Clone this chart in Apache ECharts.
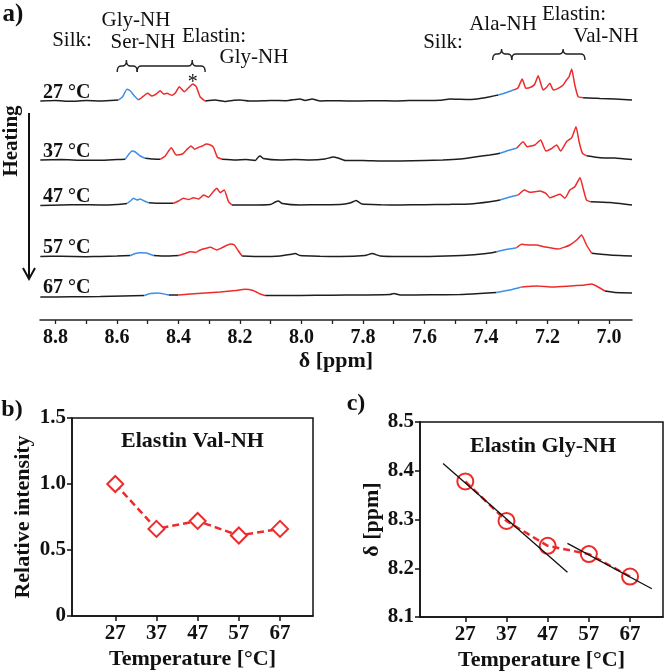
<!DOCTYPE html>
<html><head><meta charset="utf-8">
<script src="https://cdn.jsdelivr.net/npm/echarts@6/dist/echarts.min.js"></script>
<style>html,body{margin:0;padding:0;background:#fff}#c{width:666px;height:672px}</style>
</head><body><div id="c"></div>
<script>
const FONT = '"Liberation Serif", "Times New Roman", serif';
const BLACK = '#1e1e1e', BLUE = '#3f8fe8', RED = '#ee2b2b';

// ---------- Panel a: 1H NMR amide region ----------
const ppmTicks = [8.8, 8.7, 8.6, 8.5, 8.4, 8.3, 8.2, 8.1, 8.0, 7.9, 7.8, 7.7, 7.6, 7.5, 7.4, 7.3, 7.2, 7.1, 7.0];
const ppmLabels = [8.8, 8.6, 8.4, 8.2, 8.0, 7.8, 7.6, 7.4, 7.2, 7.0];
const tempLabels = ['27 °C', '37 °C', '47 °C', '57 °C', '67 °C'];
const assignTexts = ['Silk:', 'Gly-NH', 'Ser-NH', 'Elastin:', 'Gly-NH', 'Silk:', 'Ala-NH', 'Elastin:', 'Val-NH'];

// [ppm, intensity]
const spec27 = [[8.849,0],[8.80,0.5],[8.75,-0.3],[8.70,0.4],[8.654,0],[8.62,0.5],[8.595,1],[8.582,4],[8.567,11.7],[8.556,10],[8.543,5],[8.530,1],[8.521,3],[8.500,7.7],[8.486,5],[8.472,7],[8.459,10.3],[8.448,7],[8.437,7.7],[8.421,5.7],[8.410,8],[8.397,14.3],[8.381,9.3],[8.368,13],[8.353,17],[8.342,14.3],[8.329,4],[8.313,0],[8.280,1],[8.248,-0.5],[8.220,0.8],[8.199,1],[8.170,0],[8.150,0],[8.101,0.5],[8.050,0.3],[8.004,2],[7.988,0.5],[7.965,2],[7.939,0],[7.90,0.3],[7.85,0],[7.809,0],[7.75,0.3],[7.70,0],[7.65,0.4],[7.614,0.5],[7.55,0.8],[7.517,2],[7.452,1.5],[7.419,2.5],[7.387,4.3],[7.360,6],[7.338,8],[7.311,11],[7.296,13],[7.282,22],[7.270,12.7],[7.251,14.3],[7.241,17],[7.230,25.3],[7.214,11],[7.202,14],[7.192,17.7],[7.181,11],[7.165,12.7],[7.149,16],[7.138,21],[7.130,24],[7.121,32],[7.111,16],[7.100,4.3],[7.084,3.3],[7.05,2.8],[7.029,2.5],[6.98,2],[6.925,1]];
const spec37 = [[8.849,0],[8.78,0.4],[8.72,-0.2],[8.654,-0.3],[8.60,0.4],[8.573,0.7],[8.563,5],[8.551,9],[8.540,8],[8.524,4],[8.508,1.7],[8.485,1],[8.459,0.7],[8.443,4],[8.423,12.3],[8.407,5],[8.387,6],[8.374,10],[8.359,14],[8.347,10.7],[8.334,12.7],[8.322,14],[8.309,16],[8.296,15],[8.286,12.7],[8.273,2.7],[8.258,0.7],[8.215,0],[8.18,0.4],[8.150,-0.5],[8.140,3],[8.134,4],[8.124,1.5],[8.069,0],[8.02,0.4],[7.972,0],[7.923,1],[7.897,3],[7.881,2],[7.858,-0.5],[7.80,-0.5],[7.74,-1],[7.679,-1],[7.60,-0.5],[7.54,0],[7.484,1],[7.452,2.3],[7.387,5],[7.354,6.7],[7.328,9.5],[7.300,11.7],[7.279,18.3],[7.266,13.3],[7.241,15],[7.222,20],[7.205,9],[7.189,11],[7.170,15],[7.157,9],[7.138,18.3],[7.121,22.3],[7.107,33.3],[7.097,18.3],[7.086,6.7],[7.073,4.3],[7.029,2.3],[6.981,2],[6.925,0.5]];
const spec47 = [[8.849,-0.5],[8.78,0],[8.72,0.3],[8.654,0],[8.60,0.5],[8.567,1.5],[8.556,4],[8.546,6.7],[8.534,5],[8.524,6],[8.511,4],[8.497,2.3],[8.459,1.7],[8.416,1.7],[8.400,4],[8.383,6.7],[8.367,5.5],[8.351,7.3],[8.334,6],[8.318,10],[8.302,7.7],[8.290,12],[8.275,16.7],[8.264,12.3],[8.251,15],[8.237,3.3],[8.226,0],[8.166,0],[8.101,0.5],[8.085,3],[8.075,4],[8.062,1.5],[8.004,0],[7.94,0.3],[7.874,0.5],[7.842,2],[7.822,4.5],[7.803,1],[7.74,0.3],[7.679,0],[7.60,0.3],[7.52,0.6],[7.452,1],[7.387,3.3],[7.354,5],[7.322,8],[7.295,10],[7.275,15],[7.257,12.7],[7.224,14],[7.205,11.7],[7.192,7.3],[7.176,9],[7.159,10.7],[7.143,6.7],[7.127,15],[7.111,18.3],[7.094,27.3],[7.084,16.7],[7.073,5],[7.060,3.3],[6.997,2.5],[6.925,0]];
const spec57 = [[8.849,0],[8.78,0.3],[8.70,-0.2],[8.654,0],[8.60,0.4],[8.556,1],[8.540,3],[8.524,3.8],[8.504,3.5],[8.481,1],[8.443,0.5],[8.399,1],[8.378,3],[8.361,4.8],[8.345,4],[8.329,6.5],[8.313,8],[8.296,9.2],[8.275,6.5],[8.257,9],[8.231,12.5],[8.218,11.5],[8.205,5.5],[8.193,0.5],[8.134,0],[8.069,0.5],[8.037,2],[8.020,3],[8.004,1],[7.94,0.3],[7.874,0],[7.793,1],[7.770,2.9],[7.744,0.5],[7.68,0],[7.614,0],[7.53,0.6],[7.452,1.5],[7.387,3.5],[7.365,4.8],[7.335,7],[7.300,8.8],[7.284,12.2],[7.257,11.5],[7.235,11.5],[7.215,10],[7.192,8.8],[7.165,7.5],[7.143,9.5],[7.127,11.5],[7.105,16.5],[7.089,21.5],[7.073,11.5],[7.056,3.2],[6.997,1.5],[6.925,0.5]];
const spec67 = [[8.849,-1],[8.75,-0.8],[8.654,-0.5],[8.58,0],[8.511,0.5],[8.491,2.5],[8.465,3],[8.432,1],[8.400,1],[8.361,2],[8.313,3],[8.264,4],[8.215,5.5],[8.183,6.7],[8.157,5.5],[8.134,2],[8.118,0.5],[8.06,0.4],[8.004,0.5],[7.90,0.8],[7.809,1],[7.712,1.5],[7.699,2.5],[7.679,1],[7.58,1.2],[7.484,1.5],[7.42,2.5],[7.366,3.5],[7.322,6],[7.284,9],[7.235,10],[7.181,9],[7.127,10],[7.078,11],[7.056,12],[7.035,9],[7.013,5],[6.981,3.5],[6.925,3]];

// assignment ranges [high ppm, low ppm]
const silkRanges = [
  [[8.595,8.530],[7.360,7.311]],
  [[8.573,8.508],[7.354,7.300]],
  [[8.567,8.497],[7.354,7.295]],
  [[8.556,8.481],[7.365,7.300]],
  [[8.511,8.432],[7.366,7.284]]
];
const elastinRanges = [
  [[8.530,8.313],[7.311,7.084]],
  [[8.459,8.258],[7.300,7.073]],
  [[8.416,8.226],[7.295,7.060]],
  [[8.399,8.193],[7.300,7.056]],
  [[8.400,8.118],[7.284,7.013]]
];

// ---------- Panel b / c ----------
const temps = [27, 37, 47, 57, 67];
const valIntensity = [1.0, 0.66, 0.72, 0.61, 0.66];
const glyShift = [8.378, 8.297, 8.246, 8.229, 8.183];
const fitLow = [[21.6, 8.415], [51.8, 8.192]];
const fitHigh = [[51.8, 8.251], [72.3, 8.158]];

// ---------- layout ----------
const SPEC_BASE_PX = [101, 160, 205, 256.5, 296]; // pixel rows of the stacked traces
const AX_Y = 320;
const ASSIGN_POS_PX = [[72, 40], [136, 20], [143, 42], [214, 36], [254, 57], [443, 42], [503, 24], [574, 14], [606, 36]];
const spectra = [spec27, spec37, spec47, spec57, spec67];

function inRanges(m, rs) { return rs.some(r => m <= r[0] && m >= r[1]); }
function split(points, si) {
  const out = []; let cur = null;
  for (let i = 0; i < points.length - 1; i++) {
    const a = points[i], b = points[i + 1], m = (a[0] + b[0]) / 2;
    const c = inRanges(m, silkRanges[si]) ? BLUE : inRanges(m, elastinRanges[si]) ? RED : BLACK;
    if (!cur || cur.color !== c) { cur = { color: c, pts: [a] }; out.push(cur); }
    cur.pts.push(b);
  }
  return out;
}

const series = [];
spectra.forEach((sp, si) => {
  const off = AX_Y - SPEC_BASE_PX[si];
  split(sp, si).forEach(seg => {
    series.push({
      type: 'line', xAxisIndex: 0, yAxisIndex: 0, silent: true,
      symbol: 'none', smooth: 0.15,
      data: seg.pts.map(p => [p[0], off + p[1]]),
      lineStyle: { color: seg.color, width: 1.5 },
      z: seg.color === BLACK ? 2 : 3
    });
  });
});

series.push({
  type: 'line', xAxisIndex: 1, yAxisIndex: 1,
  data: temps.map((t, i) => [t, valIntensity[i]]),
  symbol: 'diamond', symbolSize: 16,
  itemStyle: { color: '#fff', borderColor: RED, borderWidth: 2 },
  lineStyle: { color: RED, width: 2.5, type: [7, 4] }, z: 3
});
series.push({
  type: 'line', xAxisIndex: 2, yAxisIndex: 2,
  data: temps.map((t, i) => [t, glyShift[i]]),
  symbol: 'circle', symbolSize: 16,
  itemStyle: { color: 'rgba(255,255,255,0)', borderColor: RED, borderWidth: 2 },
  lineStyle: { color: RED, width: 2.5, type: [7, 4] }, z: 3
});
[fitLow, fitHigh].forEach(f => series.push({
  type: 'line', xAxisIndex: 2, yAxisIndex: 2, data: f, symbol: 'none',
  lineStyle: { color: '#111', width: 1.3 }, z: 4
}));

const lblFont = { fontFamily: FONT, fontWeight: 'bold', color: '#111' };
function tempAxis(gi, min, max) {
  return {
    type: 'value', gridIndex: gi, min: min, max: max,
    axisLine: { lineStyle: { color: '#111', width: 1.5 } },
    axisTick: { customValues: temps, length: 5, lineStyle: { color: '#111', width: 1.5 } },
    axisLabel: Object.assign({ customValues: temps, fontSize: 21, margin: 7 }, lblFont),
    splitLine: { show: false },
    name: 'Temperature [°C]', nameLocation: 'middle', nameGap: 32,
    nameTextStyle: Object.assign({ fontSize: 22 }, lblFont)
  };
}

const chart = echarts.init(document.getElementById('c'));
chart.setOption({
  animation: false,
  grid: [
    { left: 40, top: 20, width: 592, height: 300, show: false },
    { left: 72, top: 418, width: 241, height: 198, show: true, borderColor: '#111', borderWidth: 1.5 },
    { left: 420, top: 422, width: 243, height: 195, show: true, borderColor: '#111', borderWidth: 1.5 }
  ],
  xAxis: [
    {
      type: 'value', gridIndex: 0, min: 6.925, max: 8.85, inverse: true,
      axisLine: { lineStyle: { color: '#222', width: 1.5 } },
      axisTick: { customValues: ppmTicks, length: 4, lineStyle: { color: '#222', width: 1.3 } },
      axisLabel: Object.assign({ customValues: ppmLabels, fontSize: 20, margin: 8, formatter: v => v.toFixed(1) }, lblFont),
      splitLine: { show: false },
      name: 'δ [ppm]', nameLocation: 'middle', nameGap: 30,
      nameTextStyle: Object.assign({ fontSize: 22 }, lblFont)
    },
    tempAxis(1, 16.5, 75),
    tempAxis(2, 16, 75)
  ],
  yAxis: [
    { type: 'value', gridIndex: 0, min: 0, max: 300, show: false },
    {
      type: 'value', gridIndex: 1, min: 0, max: 1.5, interval: 0.5,
      axisLine: { show: true, lineStyle: { color: '#111', width: 1.5 } },
      axisTick: { show: true, length: 5, lineStyle: { color: '#111', width: 1.5 } },
      axisLabel: Object.assign({ fontSize: 21, margin: 6, formatter: v => v === 0 ? '0' : v.toFixed(1) }, lblFont),
      splitLine: { show: false },
      name: 'Relative intensity', nameLocation: 'middle', nameGap: 38,
      nameTextStyle: Object.assign({ fontSize: 22 }, lblFont)
    },
    {
      type: 'value', gridIndex: 2, min: 8.1, max: 8.5, interval: 0.1,
      axisLine: { show: true, lineStyle: { color: '#111', width: 1.5 } },
      axisTick: { show: true, length: 5, lineStyle: { color: '#111', width: 1.5 } },
      axisLabel: Object.assign({ fontSize: 21, margin: 6, formatter: v => v.toFixed(1) }, lblFont),
      splitLine: { show: false },
      name: 'δ [ppm]', nameLocation: 'middle', nameGap: 37,
      nameTextStyle: Object.assign({ fontSize: 22 }, lblFont)
    }
  ],
  series: series
});

// ---------- annotations ----------
const px = v => chart.convertToPixel({ xAxisIndex: 0 }, v);
function txt(s, x, y, size, weight, rot) {
  return {
    type: 'text', x: x, y: y, rotation: rot || 0, silent: true, z: 10,
    style: { text: s, x: 0, y: 0, fill: '#111', font: (weight || 'normal') + ' ' + size + 'px ' + FONT,
      textAlign: 'center', textVerticalAlign: 'middle' }
  };
}
function quad(p0, c, p1, out) {
  for (let t = 0.2; t <= 1.001; t += 0.2) {
    const u = 1 - t;
    out.push([u * u * p0[0] + 2 * u * t * c[0] + t * t * p1[0], u * u * p0[1] + 2 * u * t * c[1] + t * t * p1[1]]);
  }
}
function brace(p1, p2, pn, y0, d, r) {
  const xa = Math.min(px(p1), px(p2)), xb = Math.max(px(p1), px(p2)), xn = px(pn);
  const pts = [[xa, y0 + d]];
  quad([xa, y0 + d], [xa, y0], [xa + 4, y0], pts);
  pts.push([xn - 4, y0]);
  quad([xn - 4, y0], [xn, y0], [xn, y0 - r], pts);
  quad([xn, y0 - r], [xn, y0], [xn + 4, y0], pts);
  pts.push([xb - 4, y0]);
  quad([xb - 4, y0], [xb, y0], [xb, y0 + d], pts);
  return { type: 'polyline', silent: true, z: 10, shape: { points: pts },
    style: { stroke: '#222', lineWidth: 1.4, fill: null } };
}
const g = [];
g.push(txt('a)', 13, 15, 25, 'bold'));
g.push(txt('b)', 12, 410, 24, 'bold'));
g.push(txt('c)', 356, 404, 24, 'bold'));
tempLabels.forEach((t, i) => {
  const el = txt(t, 43, SPEC_BASE_PX[i] - 8.5, 20, 'bold');
  el.style.textAlign = 'left';
  g.push(el);
});
g.push({ type: 'line', silent: true, shape: { x1: 29, y1: 113, x2: 29, y2: 279 }, style: { stroke: '#111', lineWidth: 2 } });
g.push({ type: 'polyline', silent: true, shape: { points: [[23, 268], [29, 279], [35, 268]] }, style: { stroke: '#111', lineWidth: 2, fill: null } });
g.push(txt('Heating', 12, 141, 21, 'bold', Math.PI / 2));
assignTexts.forEach((s, i) => g.push(txt(s, ASSIGN_POS_PX[i][0], ASSIGN_POS_PX[i][1], 21, 'normal')));
g.push(brace(8.599, 8.534, 8.569, 66, 6, 6));
g.push(brace(8.534, 8.313, 8.355, 66, 6, 6));
g.push(brace(7.378, 7.316, 7.349, 54, 6, 5));
g.push(brace(7.316, 7.078, 7.149, 54, 6, 5));
g.push(txt('*', px(8.353), 83, 20, 'normal'));
g.push(txt('Elastin Val-NH', 192.5, 441, 22, 'bold'));
g.push(txt('Elastin Gly-NH', 543, 446, 22, 'bold'));
chart.setOption({ graphic: g });
</script></body></html>
